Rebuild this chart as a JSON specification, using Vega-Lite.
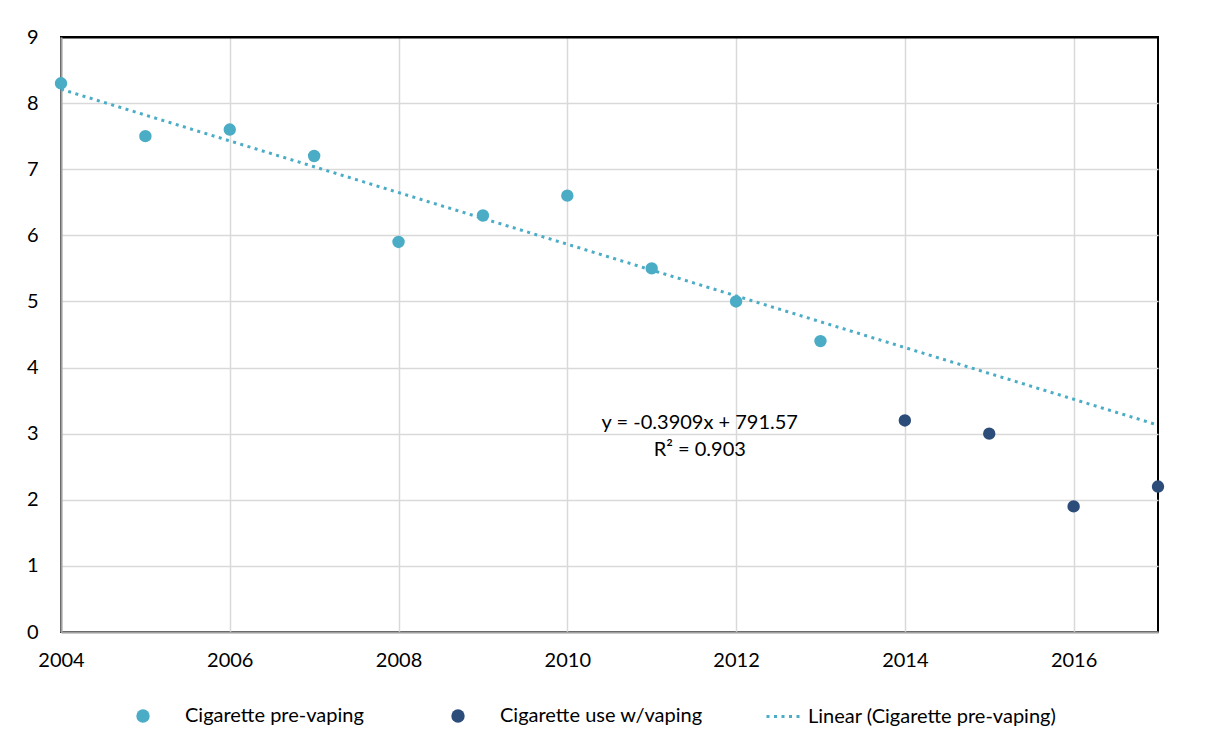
{
  "$schema": "https://vega.github.io/schema/vega-lite/v6.json",
  "width": 1097,
  "height": 595,
  "autosize": {"type": "none"},
  "padding": {"left": 61, "top": 37, "right": 47, "bottom": 119},
  "background": "white",
  "config": {
    "font": "Lato",
    "view": {"stroke": "black", "strokeWidth": 2},
    "axis": {"labelFont": "Lato", "labelFontSize": 20, "labelColor": "black", "gridColor": "#d9d9d9", "gridWidth": 1.5, "domainColor": "#a0a0a0", "domainWidth": 2, "ticks": false, "title": null},
    "legend": {"labelFont": "Lato", "labelFontSize": 20, "labelColor": "black", "labelLimit": 500}
  },
  "datasets": {
    "pts": [
      {"year": 2004, "value": 8.3, "series": "Cigarette pre-vaping"},
      {"year": 2005, "value": 7.5, "series": "Cigarette pre-vaping"},
      {"year": 2006, "value": 7.6, "series": "Cigarette pre-vaping"},
      {"year": 2007, "value": 7.2, "series": "Cigarette pre-vaping"},
      {"year": 2008, "value": 5.9, "series": "Cigarette pre-vaping"},
      {"year": 2009, "value": 6.3, "series": "Cigarette pre-vaping"},
      {"year": 2010, "value": 6.6, "series": "Cigarette pre-vaping"},
      {"year": 2011, "value": 5.5, "series": "Cigarette pre-vaping"},
      {"year": 2012, "value": 5.0, "series": "Cigarette pre-vaping"},
      {"year": 2013, "value": 4.4, "series": "Cigarette pre-vaping"},
      {"year": 2014, "value": 3.2, "series": "Cigarette use w/vaping"},
      {"year": 2015, "value": 3.0, "series": "Cigarette use w/vaping"},
      {"year": 2016, "value": 1.9, "series": "Cigarette use w/vaping"},
      {"year": 2017, "value": 2.2, "series": "Cigarette use w/vaping"}
    ],
    "trend": [
      {"year": 2004, "value": 8.21, "series": "Linear (Cigarette pre-vaping)"},
      {"year": 2017, "value": 3.13, "series": "Linear (Cigarette pre-vaping)"}
    ],
    "eq": [
      {"year": 2011.57, "value": 3.16, "label": "y = -0.3909x + 791.57"},
      {"year": 2011.57, "value": 2.75, "label": "R² = 0.903"}
    ]
  },
  "layer": [
    {
      "data": {"name": "trend"},
      "mark": {"type": "line", "strokeWidth": 3, "color": "#4bacc6", "strokeCap": "butt", "clip": false},
      "encoding": {
        "x": {"field": "year", "type": "quantitative", "scale": {"domain": [2004, 2017], "nice": false, "zero": false},
              "axis": {"values": [2004, 2006, 2008, 2010, 2012, 2014, 2016], "format": "d", "labelPadding": 18, "labelFlush": false, "grid": true}},
        "y": {"field": "value", "type": "quantitative", "scale": {"domain": [0, 9], "nice": false},
              "axis": {"values": [0, 1, 2, 3, 4, 5, 6, 7, 8, 9], "format": "d", "labelPadding": 23, "labelFlush": false, "grid": true,
                       "gridColor": {"condition": {"test": "datum.value === 9", "value": "black"}, "value": "#d9d9d9"},
                       "gridWidth": {"condition": {"test": "datum.value === 9", "value": 2}, "value": 1.5}}},
        "strokeDash": {"field": "series", "type": "nominal",
                       "scale": {"domain": ["Linear (Cigarette pre-vaping)"], "range": [[3, 4.5]]},
                       "legend": {"title": null, "orient": "none", "legendX": 704, "legendY": 660.5,
                                  "symbolType": "stroke", "symbolSize": 1225, "symbolStrokeWidth": 3,
                                  "symbolStrokeColor": "#4bacc6", "labelOffset": 5}}
      }
    },
    {
      "data": {"name": "pts"},
      "mark": {"type": "point", "filled": true, "size": 154, "opacity": 1, "clip": false},
      "encoding": {
        "x": {"field": "year", "type": "quantitative"},
        "y": {"field": "value", "type": "quantitative"},
        "color": {"field": "series", "type": "nominal",
                  "scale": {"domain": ["Cigarette pre-vaping", "Cigarette use w/vaping"], "range": ["#4bacc6", "#2c4d7a"]},
                  "legend": {
                    "title": null, "orient": "none", "direction": "horizontal",
                    "legendX": 72, "legendY": 669,
                    "symbolType": "circle", "symbolSize": 180, "symbolOpacity": 1,
                    "labelOffset": 32, "columnPadding": 84
                  }}
      }
    },
    {
      "data": {"name": "eq"},
      "mark": {"type": "text", "fontSize": 20, "font": "Lato", "color": "black", "align": "center", "baseline": "middle"},
      "encoding": {
        "x": {"field": "year", "type": "quantitative"},
        "y": {"field": "value", "type": "quantitative"},
        "text": {"field": "label"}
      }
    }
  ]
}
